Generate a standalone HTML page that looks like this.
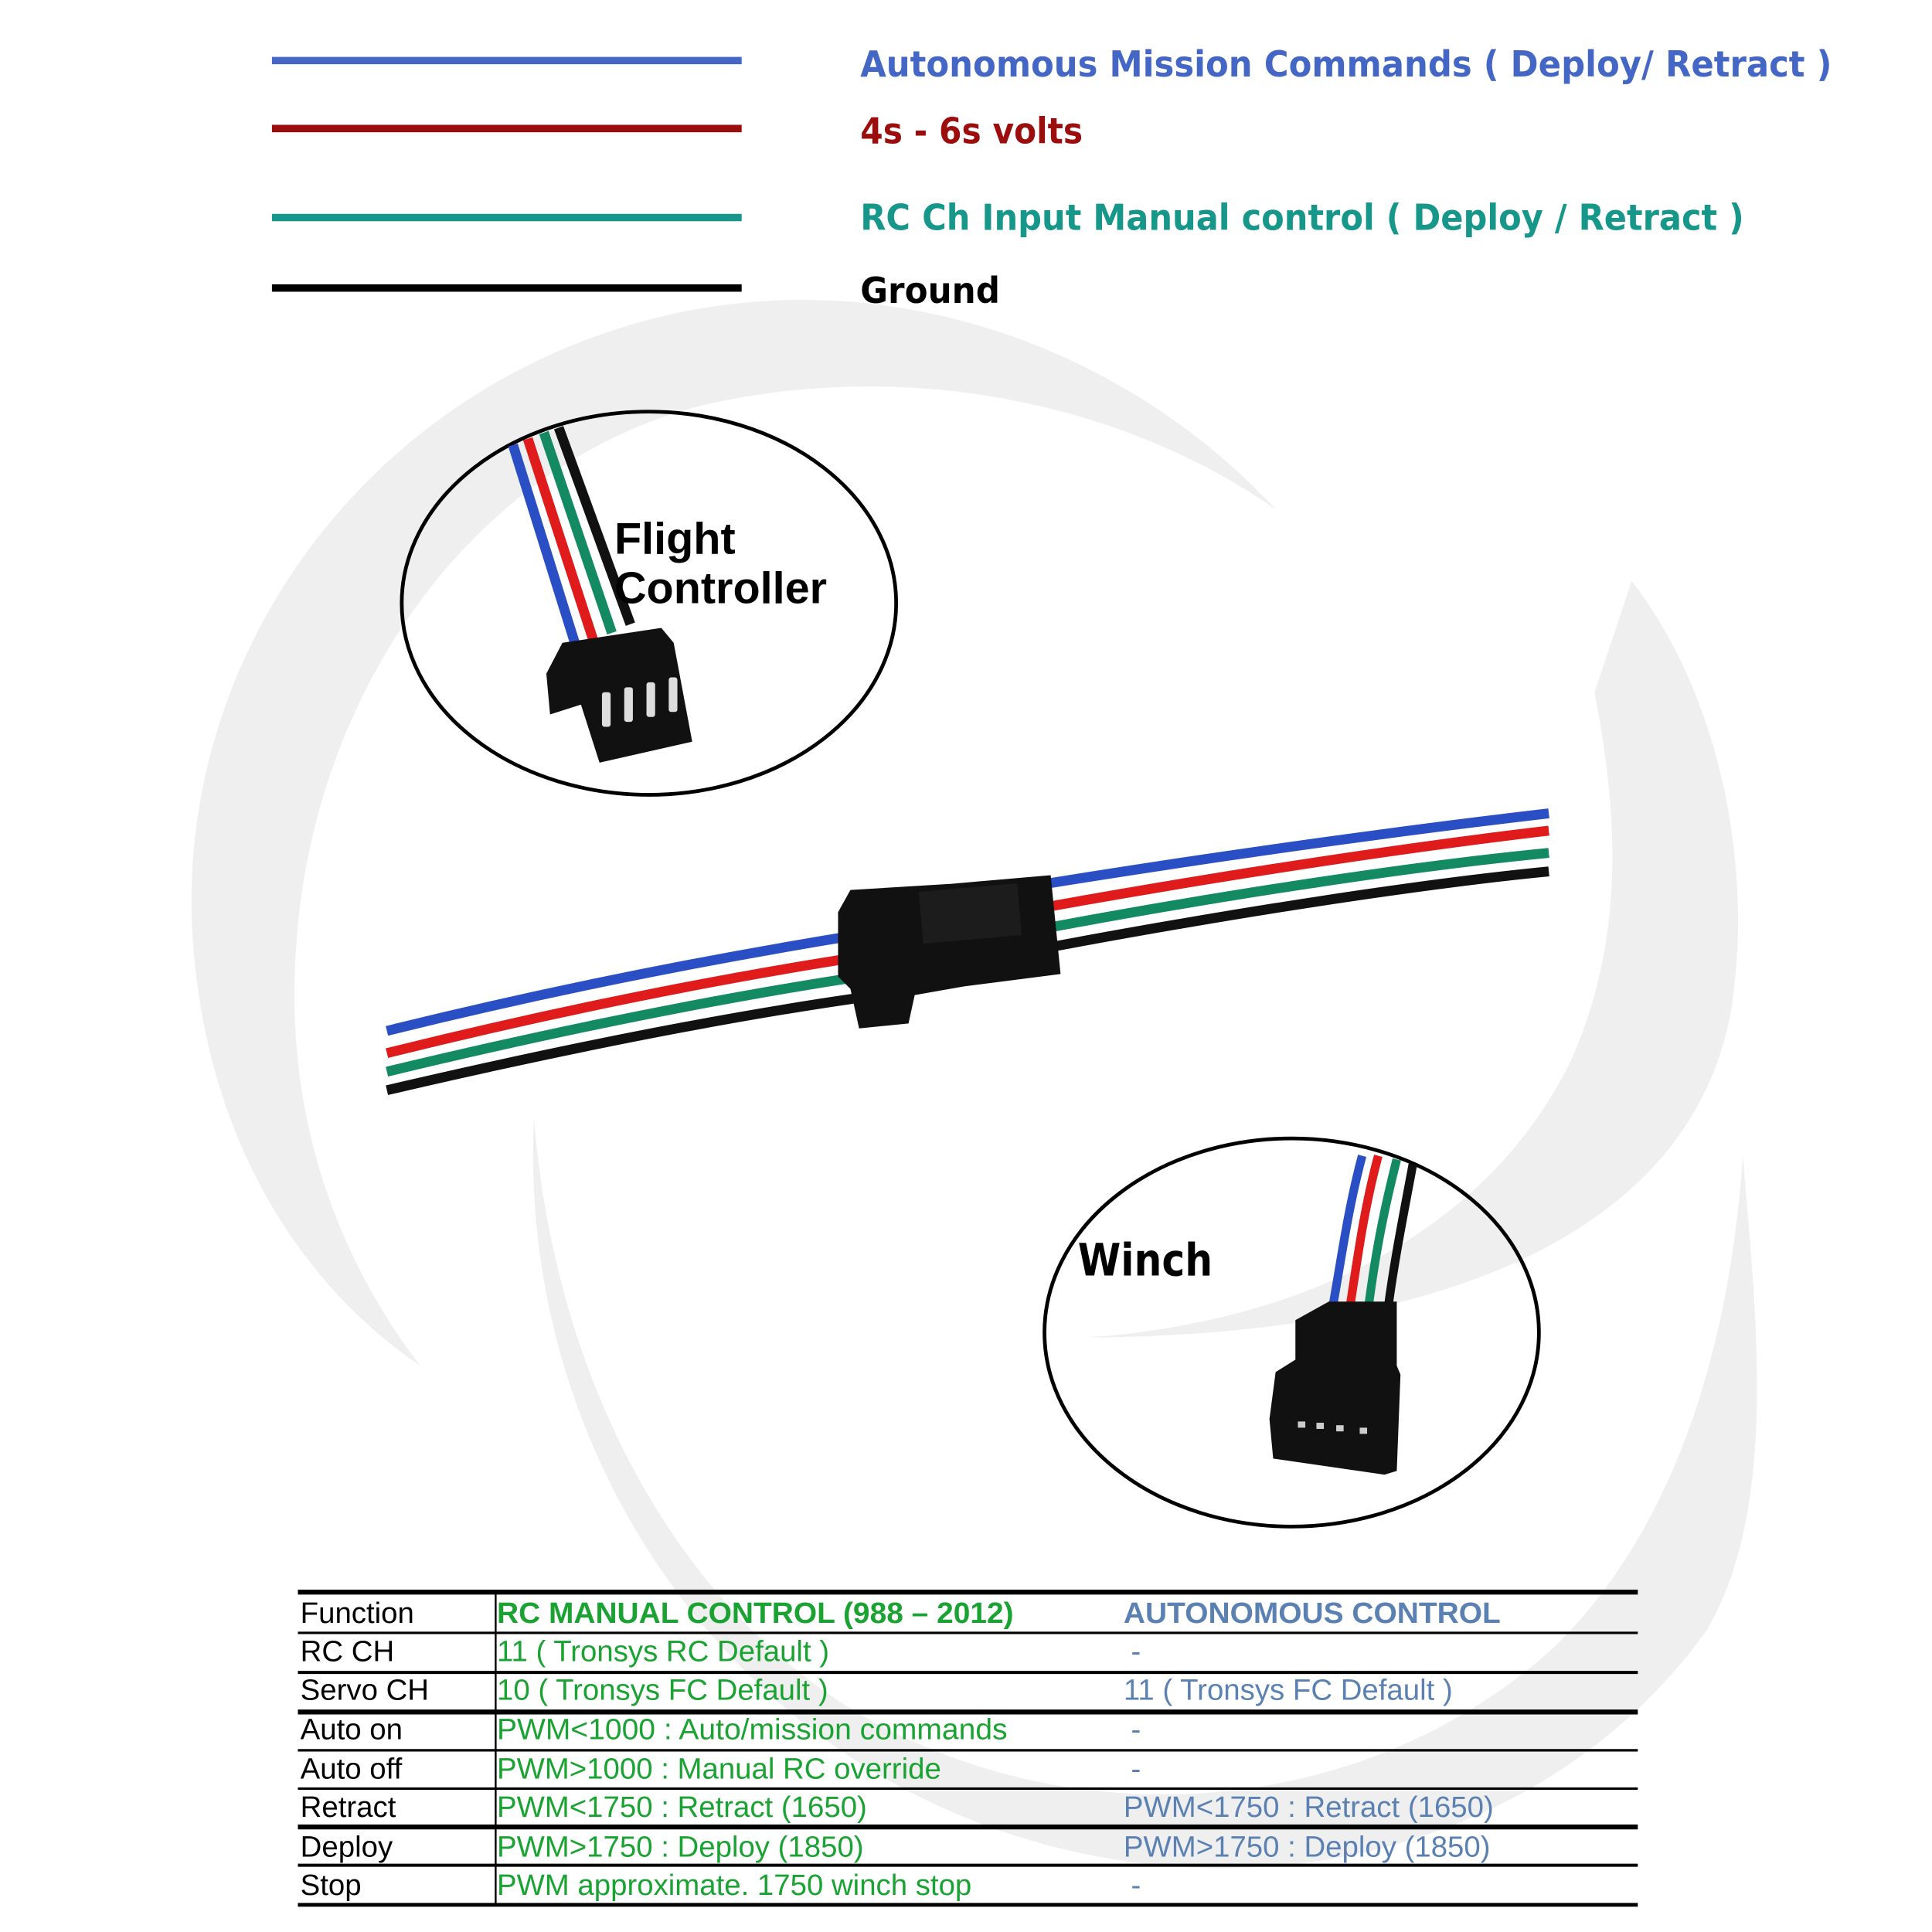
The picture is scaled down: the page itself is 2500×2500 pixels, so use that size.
<!DOCTYPE html>
<html><head><meta charset="utf-8"><style>
html,body{margin:0;padding:0;background:#fff;}
svg{display:block;}
</style></head><body>
<svg width="2500" height="2500" viewBox="0 0 1563 1563" xmlns="http://www.w3.org/2000/svg">
<rect width="1563" height="1563" fill="#fff"/>
<g fill="#efefef">
<path d="M1032,412 C900,270 700,210 520,260 C300,320 150,520 155,740 C160,900 230,1030 340,1105 C260,1000 230,880 240,760 C255,560 380,380 560,330 C720,290 900,320 1032,412 Z"/>
<path d="M432,905 C420,1150 560,1380 780,1470 C1000,1560 1250,1500 1380,1320 C1440,1220 1420,1060 1410,935 C1400,1080 1360,1230 1260,1330 C1120,1460 900,1490 720,1400 C560,1320 450,1130 432,905 Z"/>
<path d="M880,1082 C1050,1070 1200,1000 1270,860 C1320,750 1305,640 1290,560 L1320,470 C1390,560 1420,700 1400,820 C1370,980 1200,1080 880,1082 Z"/>
</g>
<g stroke-width="6">
<line x1="220" y1="49" x2="600" y2="49" stroke="#4467c6"/>
<line x1="220" y1="104" x2="600" y2="104" stroke="#9c0d0d"/>
<line x1="220" y1="176" x2="600" y2="176" stroke="#17978a"/>
<line x1="220" y1="233" x2="600" y2="233" stroke="#000"/>
</g>
<g font-family="'DejaVu Sans','Liberation Sans',sans-serif" font-weight="bold" font-size="29">
<text x="696" y="62" fill="#4467c6" textLength="786" lengthAdjust="spacingAndGlyphs">Autonomous Mission Commands ( Deploy/ Retract )</text>
<text x="696" y="116" fill="#9c0d0d" textLength="180" lengthAdjust="spacingAndGlyphs">4s - 6s  volts</text>
<text x="696" y="186" fill="#17978a" textLength="715" lengthAdjust="spacingAndGlyphs">RC Ch Input Manual control ( Deploy / Retract )</text>
<text x="696" y="245" fill="#000" textLength="113" lengthAdjust="spacingAndGlyphs">Ground</text>
</g>
<g fill="none" stroke-width="8">
<path d="M313,834 C450,800 580,775 690,757" stroke="#2a4fc4"/>
<path d="M313,852 C450,818 580,792 690,775" stroke="#e01b1b"/>
<path d="M313,867 C450,834 580,808 690,791" stroke="#138a62"/>
<path d="M313,882 C450,850 580,824 690,808" stroke="#111"/>
<path d="M840,716 C1000,690 1150,670 1253,658" stroke="#2a4fc4"/>
<path d="M840,735 C1000,706 1150,684 1253,672" stroke="#e01b1b"/>
<path d="M840,752 C1000,722 1150,700 1253,690" stroke="#138a62"/>
<path d="M840,768 C1000,738 1150,715 1253,705" stroke="#111"/>
</g>
<g fill="#111">
<path d="M678,738 L688,720 L770,715 L850,708 L858,788 L780,798 L740,805 L735,828 L695,832 L688,800 L678,790 Z"/>
<rect x="745" y="718" width="80" height="42" fill="#1c1c1c" transform="rotate(-5 785 740)"/>
</g>
<ellipse cx="525" cy="488" rx="200" ry="155" fill="none" stroke="#000" stroke-width="3"/>
<g fill="none" stroke-width="8">
<path d="M415,360 L465,520" stroke="#2a4fc4"/>
<path d="M427,355 L480,518" stroke="#e01b1b"/>
<path d="M440,350 L495,512" stroke="#138a62"/>
<path d="M452,346 L510,505" stroke="#111"/>
</g>
<path d="M455,520 L535,508 L545,520 L560,600 L485,617 L470,570 L445,578 L442,545 Z" fill="#111"/>
<g fill="#ddd"><rect x="487" y="560" width="7" height="28" rx="2"/><rect x="505" y="556" width="7" height="28" rx="2"/><rect x="523" y="552" width="7" height="28" rx="2"/><rect x="541" y="548" width="7" height="28" rx="2"/></g>
<g font-family="'Liberation Sans',sans-serif" font-weight="bold" font-size="36" fill="#000">
<text x="497" y="448">Flight</text>
<text x="497" y="488">Controller</text>
</g>
<ellipse cx="1045" cy="1078" rx="200" ry="157" fill="none" stroke="#000" stroke-width="3"/>
<g fill="none" stroke-width="7">
<path d="M1102,935 C1090,980 1085,1020 1078,1058" stroke="#2a4fc4"/>
<path d="M1115,935 C1103,980 1098,1020 1092,1058" stroke="#e01b1b"/>
<path d="M1130,938 C1118,985 1112,1020 1107,1058" stroke="#138a62"/>
<path d="M1143,942 C1135,985 1128,1020 1123,1058" stroke="#111"/>
</g>
<path d="M1075,1053 L1130,1053 L1130,1105 L1133,1112 L1130,1190 L1120,1193 L1030,1180 L1027,1148 L1032,1110 L1048,1100 L1048,1068 Z" fill="#111"/>
<g fill="#ccc"><rect x="1050" y="1150" width="6" height="5"/><rect x="1065" y="1151" width="6" height="5"/><rect x="1081" y="1153" width="6" height="5"/><rect x="1100" y="1155" width="6" height="5"/></g>
<text x="872" y="1032" font-family="'DejaVu Sans','Liberation Sans',sans-serif" font-weight="bold" font-size="36" fill="#000" textLength="109" lengthAdjust="spacingAndGlyphs">Winch</text>
<g stroke="#000">
<line x1="241" y1="1288" x2="1325" y2="1288" stroke-width="4"/>
<line x1="241" y1="1321" x2="1325" y2="1321" stroke-width="2"/>
<line x1="241" y1="1353" x2="1325" y2="1353" stroke-width="2.5"/>
<line x1="241" y1="1385" x2="1325" y2="1385" stroke-width="4"/>
<line x1="241" y1="1416" x2="1325" y2="1416" stroke-width="2"/>
<line x1="241" y1="1447" x2="1325" y2="1447" stroke-width="2"/>
<line x1="241" y1="1478" x2="1325" y2="1478" stroke-width="4"/>
<line x1="241" y1="1509" x2="1325" y2="1509" stroke-width="2.5"/>
<line x1="241" y1="1541" x2="1325" y2="1541" stroke-width="3"/>
<line x1="401" y1="1288" x2="401" y2="1541" stroke-width="1.5"/>
</g>
<g font-family="'Liberation Sans',sans-serif" font-size="24">
<g fill="#000">
<text x="243" y="1313">Function</text>
<text x="243" y="1344">RC CH</text>
<text x="243" y="1375">Servo CH</text>
<text x="243" y="1407">Auto on</text>
<text x="243" y="1439">Auto off</text>
<text x="243" y="1470">Retract</text>
<text x="243" y="1502">Deploy</text>
<text x="243" y="1533">Stop</text>
</g>
<g fill="#1aa332">
<text x="402" y="1313" font-weight="bold" textLength="418" lengthAdjust="spacingAndGlyphs">RC MANUAL CONTROL (988 – 2012)</text>
<text x="402" y="1344">11 ( Tronsys RC Default )</text>
<text x="402" y="1375">10 ( Tronsys FC Default )</text>
<text x="402" y="1407" textLength="413" lengthAdjust="spacingAndGlyphs">PWM&lt;1000 : Auto/mission commands</text>
<text x="402" y="1439">PWM&gt;1000 : Manual RC override</text>
<text x="402" y="1470">PWM&lt;1750 : Retract (1650)</text>
<text x="402" y="1502">PWM&gt;1750 : Deploy (1850)</text>
<text x="402" y="1533">PWM approximate. 1750 winch stop</text>
</g>
<g fill="#5b80b2">
<text x="909" y="1313" font-weight="bold" textLength="305" lengthAdjust="spacingAndGlyphs">AUTONOMOUS CONTROL</text>
<text x="915" y="1344">-</text>
<text x="909" y="1375">11 ( Tronsys FC Default )</text>
<text x="915" y="1407">-</text>
<text x="915" y="1439">-</text>
<text x="909" y="1470">PWM&lt;1750 : Retract (1650)</text>
<text x="909" y="1502">PWM&gt;1750 : Deploy (1850)</text>
<text x="915" y="1533">-</text>
</g>
</g>
</svg>
</body></html>
